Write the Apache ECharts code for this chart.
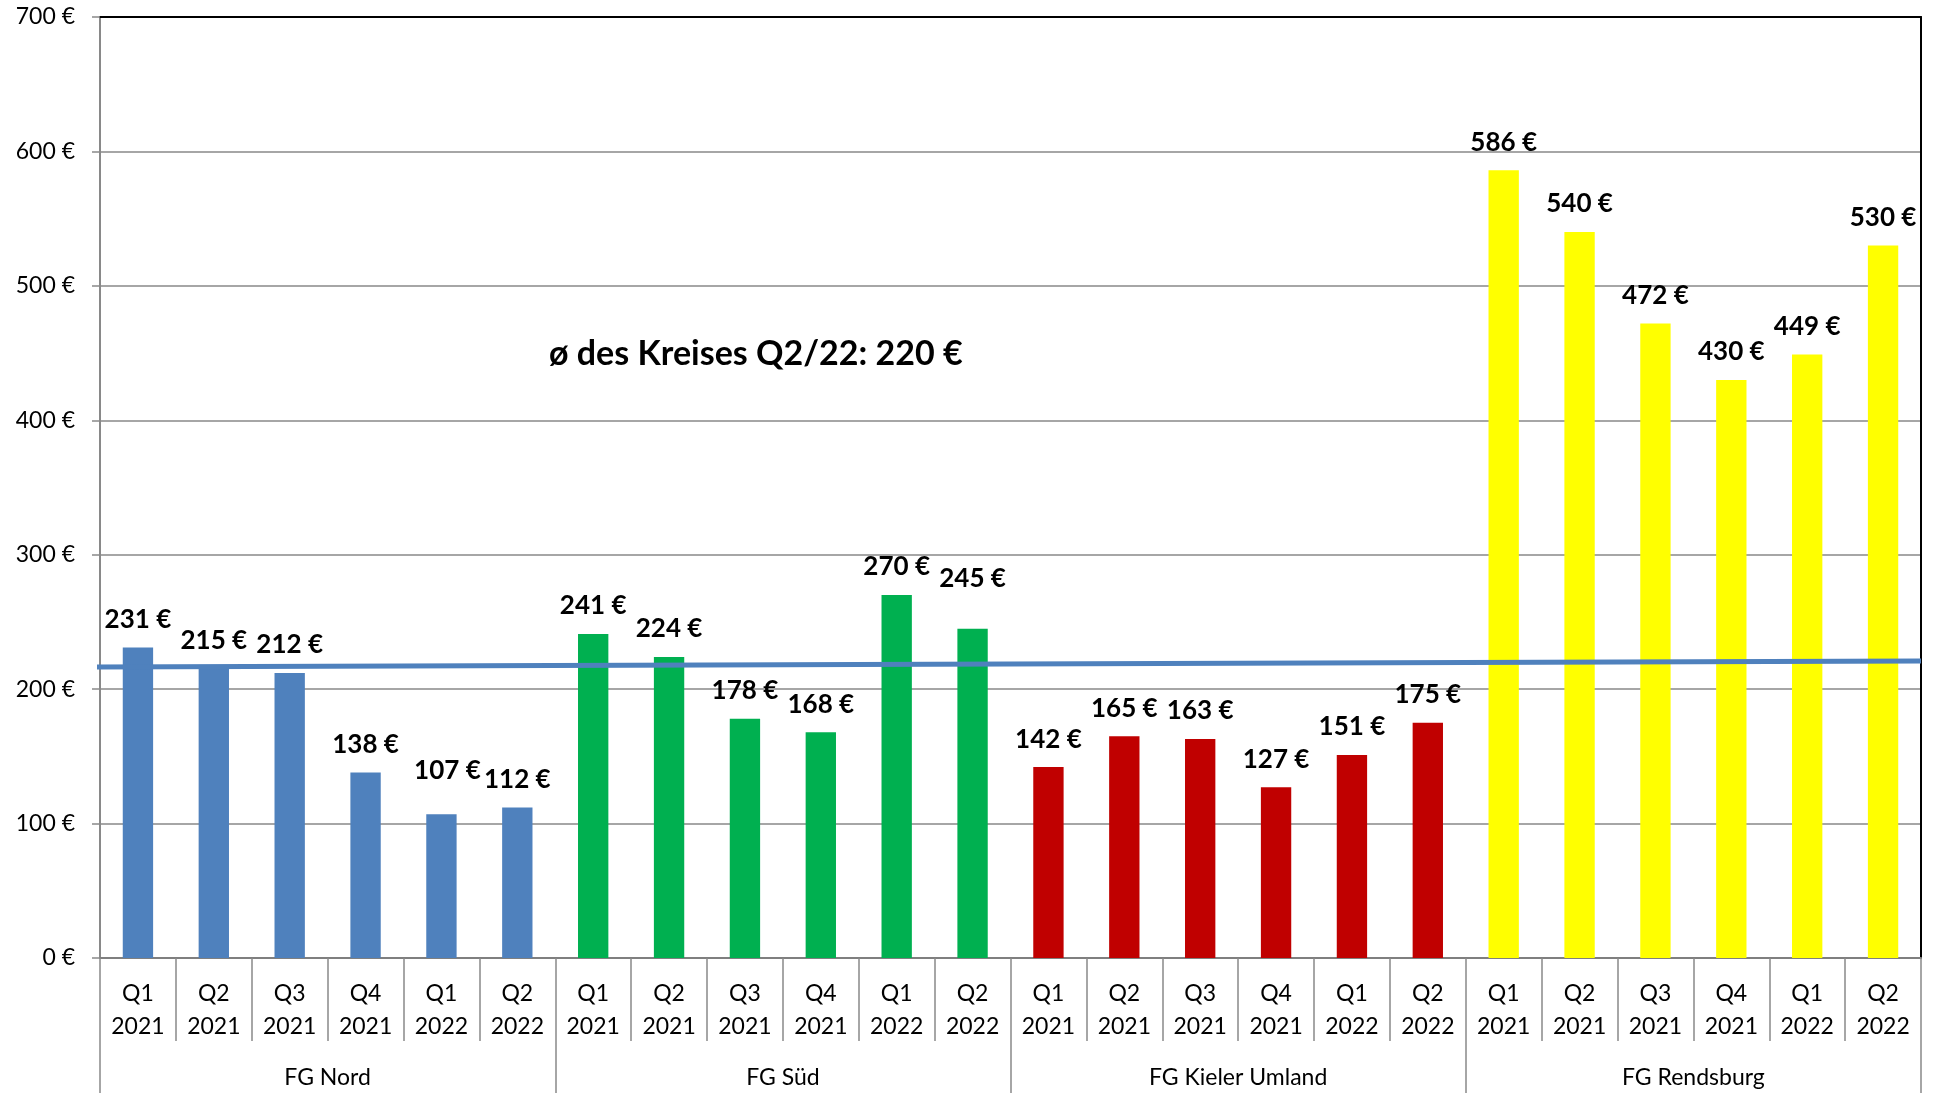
<!DOCTYPE html>
<html>
<head>
<meta charset="utf-8">
<script src="https://cdn.jsdelivr.net/npm/echarts@6/dist/echarts.min.js"></script>
<style>
html,body{margin:0;padding:0;background:#fff;}
#chart{width:1937px;height:1103px;}
</style>
</head>
<body>
<div id="chart"></div>
<script>
// ---- data ----
const groups = ['FG Nord', 'FG Süd', 'FG Kieler Umland', 'FG Rendsburg'];
const quarters = ['Q1\n2021', 'Q2\n2021', 'Q3\n2021', 'Q4\n2021', 'Q1\n2022', 'Q2\n2022'];
const nordValues = [231, 215, 212, 138, 107, 112];
const suedValues = [241, 224, 178, 168, 270, 245];
const kielValues = [142, 165, 163, 127, 151, 175];
const rendsburgValues = [586, 540, 472, 430, 449, 530];
const trendValues = [216.4, 221.0];          // linear trend line: start, end
const yMin = 0, yMax = 700, yInterval = 100;
const annotationText = 'ø des Kreises Q2/22: 220 €';

// ---- styles ----
const groupColors = ['#4F81BD', '#00B050', '#C00000', '#FFFF00'];
const FONT = 'Lato, "Open Sans", sans-serif';
const GRAY = '#898989';

const categories = [];
groups.forEach(() => quarters.forEach(q => categories.push(q)));
const values = [].concat(nordValues, suedValues, kielValues, rendsburgValues);

// manual label adjustments as in the original
const labelTweaks = { 4: { distance: 31, offset: [6, 0] }, 11: { distance: 37 } };

const barData = values.map((v, i) => {
  const item = { value: v, itemStyle: { color: groupColors[Math.floor(i / quarters.length)] } };
  if (labelTweaks[i]) item.label = labelTweaks[i];
  return item;
});

const n = categories.length;

const chart = echarts.init(document.getElementById('chart'), null, { renderer: 'canvas' });
chart.setOption({
  animation: false,
  backgroundColor: '#fff',
  grid: { left: 100, right: 16, top: 17, bottom: 145, containLabel: false },
  xAxis: [
    {
      type: 'category', data: categories, position: 'bottom',
      axisLine: { show: true, lineStyle: { color: '#7f7f7f', width: 2 } },
      axisTick: { show: true, interval: 0, length: 83, lineStyle: { color: GRAY, width: 1.5 } },
      axisLabel: { interval: 0, margin: 19, fontFamily: FONT, fontSize: 23, lineHeight: 33, color: '#000' },
      splitLine: { show: false }
    },
    {
      type: 'category', data: groups, position: 'bottom',
      axisLine: { show: false },
      axisTick: { show: true, interval: 0, length: 135, lineStyle: { color: GRAY, width: 1.5 } },
      axisLabel: { interval: 0, margin: 108, fontFamily: FONT, fontSize: 23, color: '#000' },
      splitLine: { show: false }
    },
    { type: 'value', min: 0, max: n, show: false },
    {
      type: 'category', data: categories, position: 'top',
      axisLine: { show: true, lineStyle: { color: '#000', width: 2 } },
      axisTick: { show: false }, axisLabel: { show: false }, splitLine: { show: false }
    }
  ],
  yAxis: [
    {
      type: 'value', min: yMin, max: yMax, interval: yInterval,
      axisLine: { show: true, lineStyle: { color: GRAY, width: 2 } },
      axisTick: { show: true, length: 8, lineStyle: { color: GRAY, width: 1.5 } },
      axisLabel: { margin: 25, formatter: '{value} €', fontFamily: FONT, fontSize: 23, color: '#000' },
      splitLine: { show: true, lineStyle: { color: GRAY, width: 1.5 } }
    },
    {
      type: 'value', min: yMin, max: yMax, interval: yInterval, position: 'right',
      axisLine: { show: true, lineStyle: { color: '#000', width: 2 } },
      axisTick: { show: false }, axisLabel: { show: false }, splitLine: { show: false }
    }
  ],
  series: [
    {
      type: 'bar', xAxisIndex: 0, yAxisIndex: 0, data: barData, barWidth: '40%',
      label: {
        show: true, position: 'top', distance: 15, formatter: '{c} €',
        fontFamily: FONT, fontWeight: 'bold', fontSize: 26, color: '#000'
      },
      z: 2
    },
    {
      type: 'line', xAxisIndex: 2, yAxisIndex: 0, clip: false, symbol: 'none',
      data: [[-0.145, trendValues[0]], [n, trendValues[1]]],
      lineStyle: { color: '#4F81BD', width: 5 },
      z: 5, silent: true
    }
  ],
  graphic: [
    {
      type: 'text', left: 549, top: 337, z: 10,
      style: { text: annotationText, fontFamily: FONT, fontWeight: 'bold', fontSize: 34, fill: '#000' }
    }
  ]
});
</script>
</body>
</html>
